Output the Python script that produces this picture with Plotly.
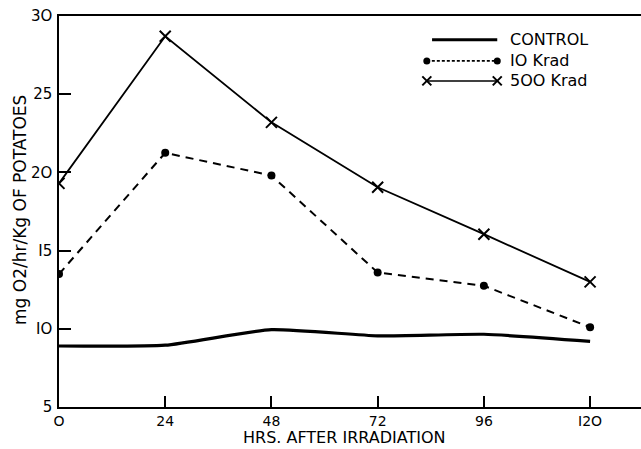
import plotly.graph_objects as go

hours = [0, 24, 48, 72, 96, 120]
control = [8.9, 8.95, 9.95, 9.55, 9.65, 9.2]
krad10 = [13.5, 21.25, 19.8, 13.6, 12.75, 10.1]
krad500 = [19.3, 28.7, 23.2, 19.05, 16.05, 13.0]
x_ticks = [0, 24, 48, 72, 96, 120]
x_tick_labels = ["O", "24", "48", "72", "96", "I2O"]
y_ticks = [5, 10, 15, 20, 25, 30]
y_tick_labels = ["5", "IO", "I5", "2O", "25", "3O"]
series_names = ["CONTROL", "IO Krad", "5OO Krad"]

FONT = "DejaVu Sans"
fig = go.Figure()

fig.add_trace(go.Scatter(x=hours, y=control, mode="lines",
                         line=dict(color="black", width=3.2, shape="spline", smoothing=0.5),
                         showlegend=False))
fig.add_trace(go.Scatter(x=hours, y=krad10, mode="lines+markers",
                         line=dict(color="black", width=2, dash="8px,6px"),
                         marker=dict(symbol="circle", size=8, color="black"),
                         showlegend=False))
fig.add_trace(go.Scatter(x=hours, y=krad500, mode="lines+markers",
                         line=dict(color="black", width=1.8),
                         marker=dict(symbol="x-thin-open", size=11,
                                     line=dict(color="black", width=2)),
                         showlegend=False))

# custom legend samples on an overlay [0,1] axis
leg_x0, leg_x1, leg_tx = 0.632, 0.753, 0.772
leg_y = [0.939, 0.885, 0.834]
fig.add_trace(go.Scatter(x=[0.641, leg_x1], y=[leg_y[0]] * 2, mode="lines",
                         line=dict(color="black", width=3), xaxis="x2", yaxis="y2",
                         showlegend=False))
fig.add_trace(go.Scatter(x=[leg_x0, leg_x1], y=[leg_y[1]] * 2, mode="lines+markers",
                         line=dict(color="black", width=1.8, dash="3px,2px"),
                         marker=dict(symbol="circle", size=7, color="black"),
                         xaxis="x2", yaxis="y2", showlegend=False))
fig.add_trace(go.Scatter(x=[leg_x0, leg_x1], y=[leg_y[2]] * 2, mode="lines+markers",
                         line=dict(color="black", width=1.5),
                         marker=dict(symbol="x-thin-open", size=9,
                                     line=dict(color="black", width=2)),
                         xaxis="x2", yaxis="y2", showlegend=False))
annotations = []
for name, yy in zip(series_names, leg_y):
    annotations.append(dict(x=leg_tx, y=yy, xref="x2", yref="y2", text=name,
                            showarrow=False, xanchor="left", yanchor="middle",
                            font=dict(family=FONT, size=16, color="black")))

annotations.append(dict(x=(344 - 59) / 582, y=-(449 - 407) / 391, xref="paper", yref="paper",
                        text="HRS. AFTER IRRADIATION", showarrow=False,
                        xanchor="center", yanchor="bottom",
                        font=dict(family=FONT, size=16, color="black")))
annotations.append(dict(x=(20 - 59) / 582, y=1 - (210 - 16) / 391,
                        xref="paper", yref="paper",
                        text="mg O2/hr/Kg OF POTATOES", showarrow=False,
                        textangle=-90, xanchor="center", yanchor="middle",
                        font=dict(family=FONT, size=17, color="black")))

fig.update_layout(
    width=641, height=449,
    margin=dict(l=59, r=0, t=16, b=42),
    paper_bgcolor="white", plot_bgcolor="white",
    font=dict(family=FONT, size=15, color="black"),
    xaxis=dict(range=[0, 131.5], tickmode="array", tickvals=x_ticks,
               ticktext=x_tick_labels, ticks="inside", ticklen=11, tickwidth=1.5,
               tickcolor="black", showline=True, linecolor="black", linewidth=1.5,
               mirror=True, showgrid=False, zeroline=False,
               tickfont=dict(family=FONT, size=14)),
    yaxis=dict(range=[5, 30], tickmode="array", tickvals=y_ticks,
               ticktext=y_tick_labels, ticks="inside", ticklen=12, tickwidth=1.5,
               tickcolor="black", showline=True, linecolor="black", linewidth=1.5,
               showgrid=False, zeroline=False, ticklabelstandoff=2,
               tickfont=dict(family=FONT, size=15)),
    xaxis2=dict(range=[0, 1], overlaying="x", visible=False, fixedrange=True),
    yaxis2=dict(range=[0, 1], overlaying="y", visible=False, fixedrange=True),
    annotations=annotations,
)

fig.write_html("out.html", config={"displayModeBar": False},
               post_script="document.body.style.margin='0';document.body.style.overflow='hidden';")
